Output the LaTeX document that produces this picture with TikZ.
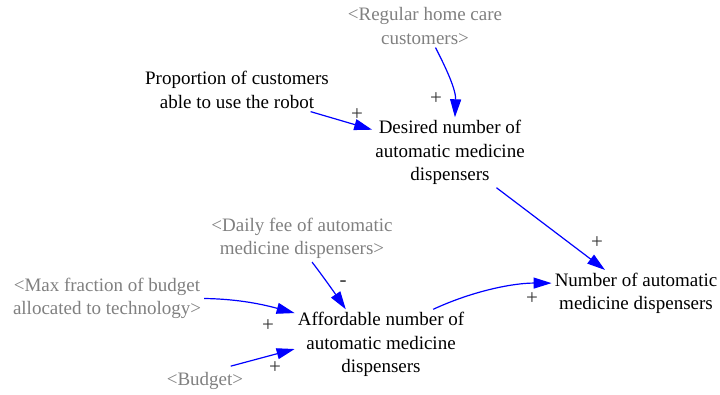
\documentclass[tikz,border=0pt]{standalone}
\usepackage{fontspec}
\setmainfont{Liberation Serif}
\usetikzlibrary{arrows.meta,calc}
\definecolor{linkblue}{RGB}{0,0,255}
\definecolor{shadowgray}{RGB}{128,128,128}
\definecolor{polarity}{RGB}{50,50,50}

\begin{document}
\begin{tikzpicture}[x=1pt,y=-1pt,
  var/.style={align=center, inner sep=3pt, font=\fontsize{19}{23.3}\selectfont, text=black},
  shadowvar/.style={var, text=shadowgray},
  link/.style={draw=linkblue, line width=1.2pt, -{Triangle[length=18pt,width=11pt]}},
  sign/.style={inner sep=0pt, font=\fontsize{21}{22}\selectfont, text=polarity}]
\useasboundingbox (0,0) rectangle (720,394);

% variables
\node[shadowvar] (reg)   at (425,26)    {<Regular home care\\customers>};
\node[var]       (prop)  at (237,90)    {Proportion of customers\\able to use the robot};
\node[var]       (des)   at (450,152.5) {Desired number of\\automatic medicine\\dispensers};
\node[var]       (num)   at (636,293.5) {Number of automatic\\medicine dispensers};
\node[shadowvar] (daily) at (302,238.5) {<Daily fee of automatic\\medicine dispensers>};
\node[shadowvar] (maxf)  at (107,298.5) {<Max fraction of budget\\allocated to technology>};
\node[var]       (aff)   at (381,344.5) {Affordable number of\\automatic medicine\\dispensers};
\node[shadowvar, inner sep=6pt] (bud) at (205,381) {<Budget>};

% causal links
\draw[link] (reg.-64) .. controls (447,70) and (456,90) .. (des.82);
\draw[link] (prop) -- (des);
\draw[link] (des) -- (num);
\draw[link] (daily.-67) .. controls (322,275) and (334,292) .. (aff.135);
\draw[link] (maxf.east) .. controls (240,299) and (265,305) .. (aff.160);
\draw[link] (bud.30) -- (aff.183);
\draw[link] (aff.34) .. controls (475,290) and (515,283) .. (num.173);

% link polarities
\node[sign] (s1) at (436,99)  {+};
\node[sign] (s2) at (357,115) {+};
\node[sign] (s3) at (597,243) {+};
\node[sign] (s4) at (343,284) {-};
\node[sign] (s5) at (268,326) {+};
\node[sign] (s6) at (275,368) {+};
\node[sign] (s7) at (532,299) {+};
\end{tikzpicture}
\end{document}
